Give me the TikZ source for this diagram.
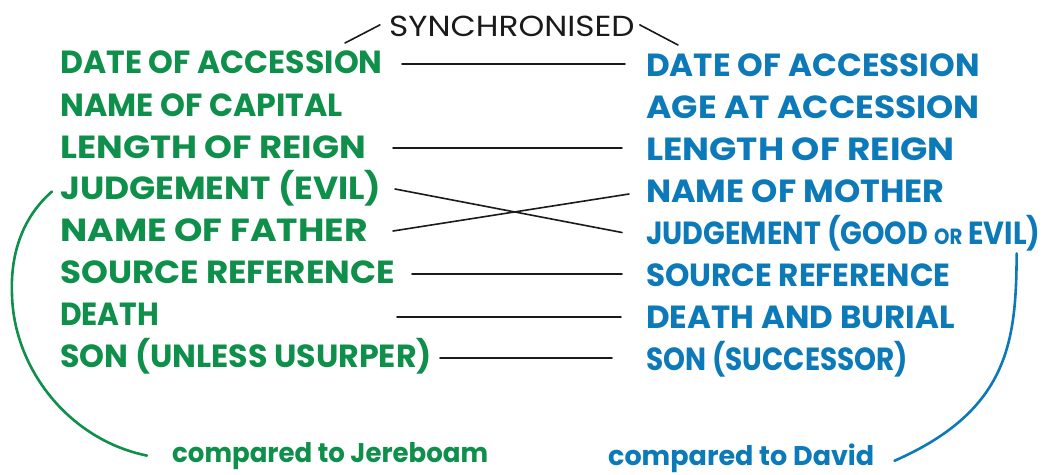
\documentclass[tikz,border=0pt]{standalone}
\usepackage{fontspec}
\usetikzlibrary{calc}
\setmainfont{Poppins}
\definecolor{lgreen}{HTML}{0E8F4A}
\definecolor{rblue}{HTML}{0C79B9}
\definecolor{ink}{HTML}{1A1A1A}
\newcommand{\Tx}[2][1]{\scalebox{#1}[1]{#2}}
\tikzset{
  lbl/.style={anchor=base west, inner sep=0pt, text height=23pt, text depth=0pt,
    font=\fontsize{32}{32}\selectfont\bfseries},
  lft/.style={lbl, text=lgreen},
  rgt/.style={lbl, text=rblue},
  link/.style={draw=ink, line width=1.6pt, line cap=round},
  arc/.style={line width=2.6pt, line cap=round},
  cmp/.style={anchor=base west, inner sep=0pt, font=\fontsize{27}{27}\selectfont\bfseries},
}
\begin{document}
\begin{tikzpicture}[x=1pt,y=-1pt]
\useasboundingbox[fill=white] (0,0) rectangle (1046,474);
% title
\node[anchor=base west, inner sep=0pt, text=ink, font=\fontsize{29}{29}\selectfont] (sync) at (389,36) {\Tx[1.13]{SYNCHRONISED}};
\coordinate (sl1) at (345,43);
\coordinate (sr1) at (678,45);
\draw[link] (sl1) -- ($(sync.west)+(-9,-1)$);
\draw[link] (sr1) -- ($(sync.east)+(5,-1)$);
% left column
\node[lft] (l1) at (60,73) {\Tx[0.986]{DATE OF ACCESSION}};
\node[lft] (l2) at (60,116) {\Tx[0.99]{NAME OF CAPITAL}};
\node[lft] (l3) at (60,158) {\Tx[1.11]{LENGTH OF REIGN}};
\node[lft] (l4) at (60,199) {\Tx[1.076]{JUDGEMENT (EVIL)}};
\node[lft] (l5) at (60,241) {\Tx[1.13]{NAME OF FATHER}};
\node[lft] (l6) at (60,283) {\Tx[1.067]{SOURCE REFERENCE}};
\node[lft] (l7) at (60,325) {\Tx[0.93]{DEATH}};
\node[lft] (l8) at (60,367) {\Tx[0.99]{SON (UNLESS USURPER)}};
% right column
\node[rgt] (r1) at (646,76) {\Tx[1.02]{DATE OF ACCESSION}};
\node[rgt] (r2) at (646,118) {\Tx[1.08]{AGE AT ACCESSION}};
\node[rgt] (r3) at (646,160) {\Tx[1.12]{LENGTH OF REIGN}};
\node[rgt] (r4) at (646,202) {\Tx[1.044]{NAME OF MOTHER}};
\node[rgt] (r5) at (646,244) {\Tx[0.893]{JUDGEMENT (GOOD {\fontsize{22}{22}\selectfont OR} EVIL)}};
\node[rgt] (r6) at (646,286) {\Tx[0.97]{SOURCE REFERENCE}};
\node[rgt] (r7) at (646,328) {\Tx[1.016]{DEATH AND BURIAL}};
\node[rgt] (r8) at (646,370) {\Tx[0.873]{SON (SUCCESSOR)}};
% x positions of the link ends
\coordinate (a1) at (402,0); \coordinate (b1) at (625,0);
\coordinate (a3) at (393,0); \coordinate (b3) at (622,0);
\coordinate (a4) at (395,0); \coordinate (b4) at (622,0);
\coordinate (a5) at (393,0); \coordinate (b5) at (629,0);
\coordinate (a6) at (412,0); \coordinate (b6) at (622,0);
\coordinate (a7) at (397,0); \coordinate (b7) at (621,0);
\coordinate (a8) at (440,0); \coordinate (b8) at (612,0);
% links
\draw[link] ($(a1 |- l1.east)+(0,2.5)$) -- ($(b1 |- l1.east)+(0,2.5)$);
\draw[link] ($(a3 |- l3.east)+(0,1.5)$) -- ($(b3 |- l3.east)+(0,1.5)$);
\draw[link] ($(a4 |- l4.east)+(0,1.5)$) -- ($(b4 |- r5.west)$);
\draw[link] ($(a5 |- l5.east)+(0,1.5)$) -- ($(b5 |- r4.west)+(0,3.5)$);
\draw[link] ($(a6 |- l6.east)+(0,2.5)$) -- ($(b6 |- l6.east)+(0,2.5)$);
\draw[link] ($(a7 |- l7.east)+(0,3.5)$) -- ($(b7 |- l7.east)+(0,3.5)$);
\draw[link] ($(a8 |- l8.east)+(0,2.5)$) -- ($(b8 |- l8.east)+(0,2.5)$);
% bottom labels
\node[cmp, text=lgreen] (cj) at (172,462) {\Tx[0.964]{compared to Jereboam}};
\node[cmp, text=rblue] (cd) at (608,465) {\Tx[1.0]{compared to David}};
% brackets
\draw[arc, draw=lgreen] ($(l4.west)+(-8,4)$) .. controls (25,215) and (10,250) .. (12,295)
   .. controls (14,370) and (70,440) .. ($(cj.west)+(-25,0)$);
\draw[arc, draw=rblue] ($(r5.east)+(-24,21)$) .. controls (1016,340) and (1010,410) .. ($(cd.east)+(20,3)$);
\end{tikzpicture}
\end{document}
